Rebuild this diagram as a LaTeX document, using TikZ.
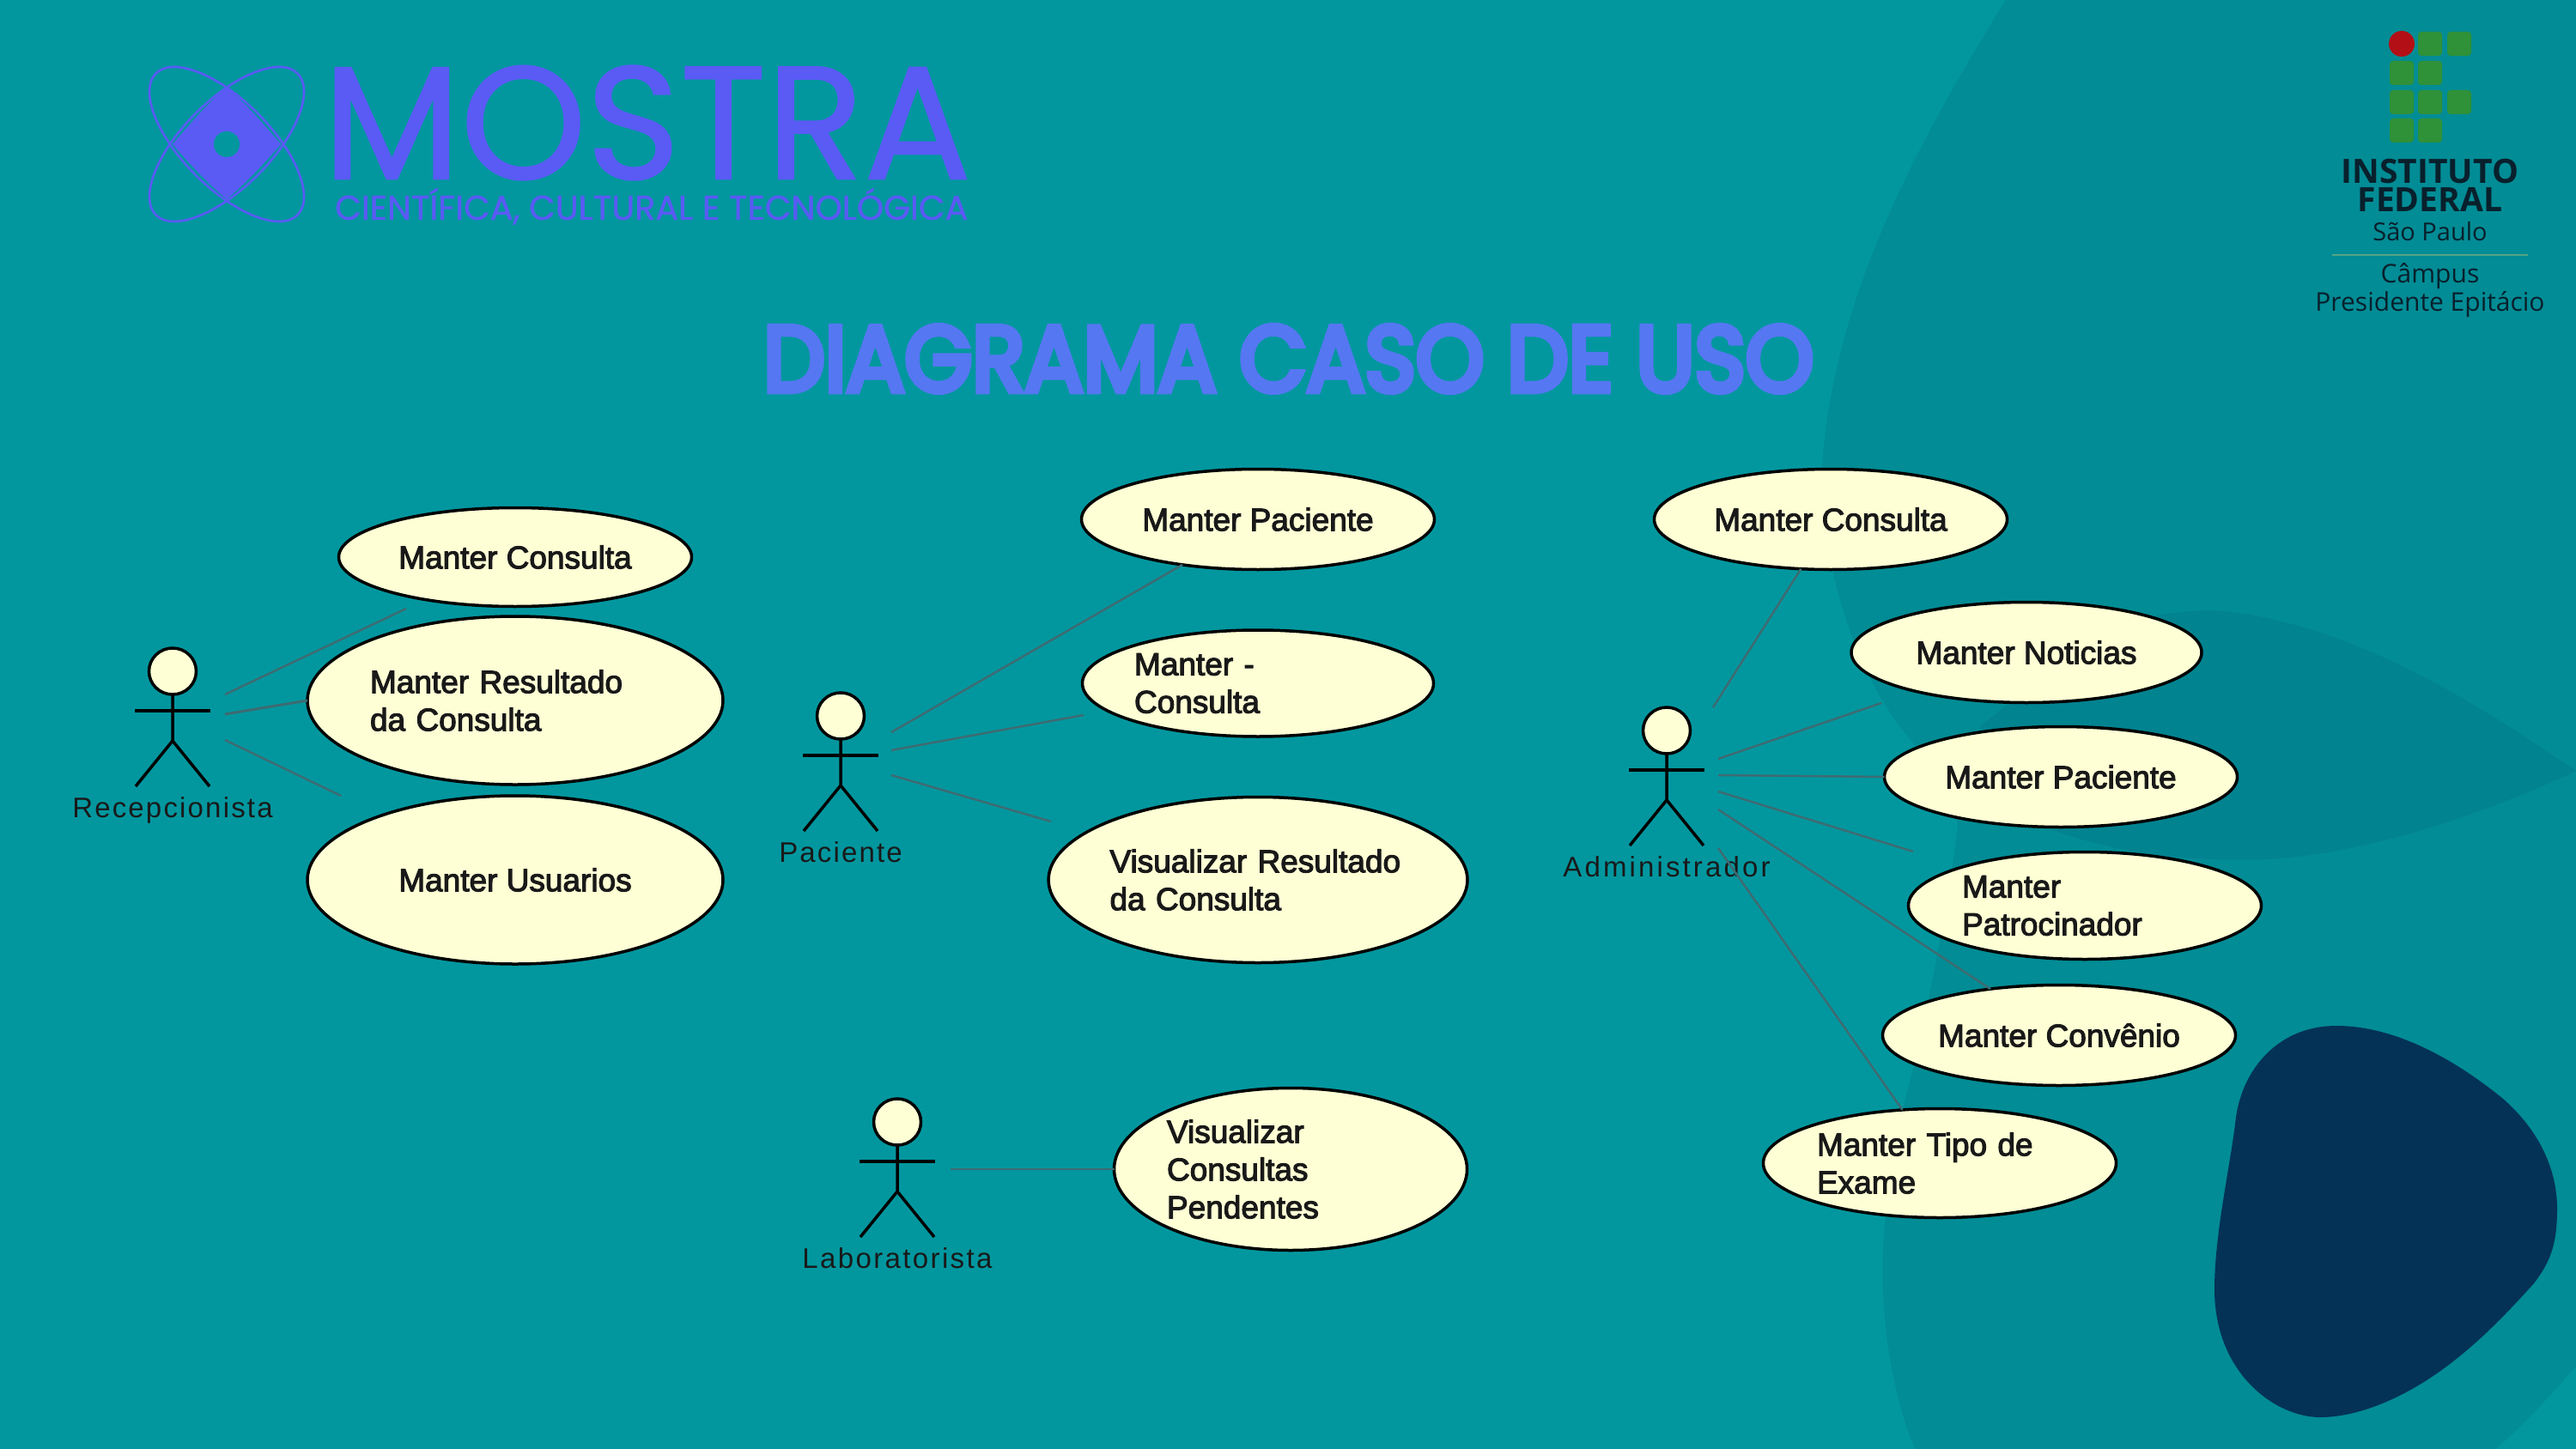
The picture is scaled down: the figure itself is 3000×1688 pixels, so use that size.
\documentclass[tikz,border=0pt]{standalone}
\usepackage{fontspec}
\usepackage{graphicx}
\usetikzlibrary{shapes.geometric}
\setmainfont{Liberation Sans}
\newfontfamily\ucfont[FakeBold=3]{Liberation Sans}
\newfontfamily\popfont{Poppins}
\newfontfamily\popmost[FakeBold=1]{Poppins}
\newfontfamily\popsub[FakeBold=1]{Poppins}
\newfontfamily\poptitle[FakeBold=7]{Poppins}
\newfontfamily\openfont{Open Sans}
\definecolor{bgteal}{HTML}{02979F}
\definecolor{darkteal}{HTML}{028C95}
\definecolor{lobeteal}{HTML}{028390}
\definecolor{navyblob}{HTML}{043257}
\definecolor{logoblue}{HTML}{5A5AF5}
\definecolor{titleblue}{HTML}{5577F2}
\definecolor{ucfill}{HTML}{FFFFD5}
\definecolor{assoc}{HTML}{3E6B72}
\definecolor{ifgreen}{HTML}{2F9138}
\definecolor{ifred}{HTML}{B21016}
\definecolor{ifink}{HTML}{08202C}
\definecolor{ifrule}{HTML}{55A583}
\tikzset{
  usecase/.style={ellipse,draw=black,line width=3.5pt,fill=ucfill,inner sep=0pt,outer sep=0pt,
    font=\ucfont\fontsize{37}{44}\selectfont,text=black!90},
  ucsmall/.style={usecase,minimum width=411pt,minimum height=117pt},
  leftuc/.style={align=left,text width=#1},
  actorhead/.style={ellipse,draw=black,line width=3.5pt,fill=ucfill,inner sep=0pt,outer sep=0pt,minimum width=55pt,minimum height=54pt},
  actorline/.style={draw=black,line width=3.5pt},
  actorlabel/.style={inner sep=0pt,anchor=base,text=black!90},
  assocline/.style={draw=assoc,line width=2.5pt},
  iftext/.style={inner sep=0pt,text=ifink},
}
\newcommand{\ucactor}[5]{%
  \node[actorhead] (#1) at (#2,#3) {};
  \draw[actorline] (#1.south) -- ++(0,54) coordinate (#1hip) -- ++(-43,53);
  \draw[actorline] (#1hip) -- ++(43,53);
  \draw[actorline,line width=4pt] (#2-44,#3+46) -- (#2+44,#3+46);
  \node[actorlabel] (#1l) at (#2,#3+170) {\addfontfeature{LetterSpace=#4}\fontsize{33}{36}\selectfont #5};
}
\begin{document}
\begin{tikzpicture}[x=1pt,y=-1pt]
\useasboundingbox (0,0) rectangle (3000,1688);
\clip (0,0) rectangle (3000,1688);
\fill[bgteal] (0,0) rectangle (3000,1688);
% large darker background shape
\fill[darkteal] (2336,0) .. controls (2230,170) and (2135,350) .. (2122,543)
  .. controls (2120,640) and (2150,760) .. (2210,843)
  .. controls (2240,880) and (2270,920) .. (2280,960)
  .. controls (2270,1060) and (2235,1220) .. (2217,1287)
  .. controls (2200,1370) and (2190,1440) .. (2193,1502)
  .. controls (2195,1570) and (2210,1640) .. (2230,1688)
  -- (2906,1688) .. controls (2940,1660) and (2970,1625) .. (3000,1592) -- (3000,0) -- cycle;
% darker lobe
\fill[lobeteal] (3000,898) .. controls (2900,830) and (2770,745) .. (2630,718)
  .. controls (2570,705) and (2500,710) .. (2440,745)
  .. controls (2390,775) and (2340,820) .. (2306,846)
  -- (2383,964) .. controls (2450,990) and (2540,1005) .. (2638,1001)
  .. controls (2760,995) and (2900,945) .. (3000,898) -- cycle;
% navy blob
\fill[navyblob] (2721,1195) .. controls (2790,1195) and (2860,1235) .. (2915,1280)
  .. controls (2955,1315) and (2978,1360) .. (2978,1408)
  .. controls (2978,1450) and (2970,1470) .. (2951,1495)
  .. controls (2915,1535) and (2885,1565) .. (2849,1592)
  .. controls (2805,1625) and (2750,1651) .. (2702,1651)
  .. controls (2650,1651) and (2579,1600) .. (2579,1502)
  .. controls (2579,1440) and (2595,1370) .. (2603,1310)
  .. controls (2608,1250) and (2650,1195) .. (2721,1195) -- cycle;

% MOSTRA logo
\fill[logoblue] (264,102) .. controls (240,122) and (218,148) .. (201,168)
  .. controls (218,188) and (240,212) .. (264,232)
  .. controls (288,212) and (310,188) .. (327,168)
  .. controls (310,148) and (288,122) .. (264,102) -- cycle;
\draw[logoblue,line width=2.6pt,rotate around={45:(264,168)}] (264,168) ellipse [x radius=116.6pt,y radius=51pt];
\draw[logoblue,line width=2.6pt,rotate around={-45:(264,168)}] (264,168) ellipse [x radius=116.6pt,y radius=51pt];
\fill[bgteal] (264,168) circle [radius=15pt];
\node[inner sep=0pt,anchor=west,text=logoblue] (mostra) at (376,143) {\resizebox{755pt}{132pt}{\popmost MOSTRA}};
\node[inner sep=0pt,anchor=base west,text=logoblue] (sub) at (390,256) {\resizebox{737pt}{37pt}{\popsub CIENTÍFICA, CULTURAL E TECNOLÓGICA}};
\node[inner sep=0pt,anchor=west,text=titleblue] (title) at (889,418) {\resizebox{1222pt}{76pt}{\poptitle DIAGRAMA CASO DE USO}};

% IF logo
\fill[ifred] (2797,51) circle [radius=15pt];
\foreach \px/\py in {2816/37,2850/37,2783/71,2816/71,2783/105,2816/105,2850/105,2783/138,2816/138}
  \fill[ifgreen,rounded corners=4pt] (\px,\py) rectangle ++(28,28);
\node[iftext] (inst) at (2830,200) {\openfont\bfseries\fontsize{39}{40}\selectfont INSTITUTO};
\node[iftext] (fed) at (2830,233) {\openfont\bfseries\fontsize{39}{40}\selectfont FEDERAL};
\node[iftext] (sp) at (2830,270) {\openfont\fontsize{29}{30}\selectfont São Paulo};
\draw[draw=ifrule,line width=2pt] (2716,297) -- (2944,297);
\node[iftext] (camp) at (2830,322) {\openfont\fontsize{30}{31}\selectfont Câmpus};
\node[iftext] (pres) at (2830,355) {\openfont\fontsize{30}{31}\selectfont Presidente Epitácio};

% Recepcionista
\ucactor{rec}{201}{782}{6.6}{Recepcionista}
\node[usecase,minimum width=411pt,minimum height=115pt] (rmc) at (600,649) {Manter Consulta};
\node[usecase,minimum width=484pt,minimum height=196pt,leftuc=338pt] (rmr) at (600,816) {Manter Resultado\\da Consulta};
\node[usecase,minimum width=484pt,minimum height=196pt] (rmu) at (600,1025) {Manter Usuarios};
\coordinate (ra1) at (262,809); \coordinate (re1) at (473,709);
\coordinate (ra2) at (262,832);
\coordinate (ra3) at (262,862); \coordinate (re3) at (397,927);
\draw[assocline] (ra1) -- (re1);
\draw[assocline,line width=3pt] (ra2) -- (rmr.west);
\draw[assocline] (ra3) -- (re3);

% Paciente
\ucactor{pac}{979}{834}{6.5}{Paciente}
\node[ucsmall] (pmp) at (1465,605) {Manter Paciente};
\node[usecase,minimum width=409pt,minimum height=124pt,leftuc=288pt] (pmc) at (1465,796) {Manter -\\Consulta};
\node[usecase,minimum width=486pt,minimum height=193pt,leftuc=345pt] (pvr) at (1465,1025) {Visualizar Resultado\\da Consulta};
\coordinate (pa1) at (1038,853);
\coordinate (pa2) at (1038,874); \coordinate (pe2) at (1262,833);
\coordinate (pa3) at (1038,903); \coordinate (pe3) at (1224,957);
\draw[assocline] (pa1) -- (pmp.211);
\draw[assocline] (pa2) -- (pe2);
\draw[assocline] (pa3) -- (pe3);

% Laboratorista
\ucactor{lab}{1045}{1307}{7.2}{Laboratorista}
\node[usecase,minimum width=411pt,minimum height=189pt,leftuc=288pt] (lvc) at (1503,1362) {Visualizar\\Consultas\\Pendentes};
\coordinate (la1) at (1107,1362);
\draw[assocline] (la1) -- (lvc.west);

% Administrador
\ucactor{adm}{1941}{851}{9.5}{Administrador}
\node[ucsmall] (amc) at (2132,605) {Manter Consulta};
\node[ucsmall,minimum width=408pt] (amn) at (2360,760) {Manter Noticias};
\node[ucsmall] (amp) at (2400,905) {Manter Paciente};
\node[usecase,minimum width=411pt,minimum height=125pt,leftuc=286pt] (ampt) at (2428,1055) {Manter\\Patrocinador};
\node[ucsmall] (amcv) at (2398,1206) {Manter Convênio};
\node[usecase,minimum width=411pt,minimum height=127pt,leftuc=286pt] (amt) at (2259,1355) {Manter Tipo de\\Exame};
\coordinate (aa1) at (1995,824);
\coordinate (aa2) at (2001,884); \coordinate (ae2) at (2191,819);
\coordinate (aa3) at (2001,903);
\coordinate (aa4) at (2001,922); \coordinate (ae4) at (2228,992);
\coordinate (aa5) at (2001,943);
\coordinate (aa6) at (2001,988);
\draw[assocline] (aa1) -- (amc.239);
\draw[assocline] (aa2) -- (ae2);
\draw[assocline] (aa3) -- (amp.west);
\draw[assocline] (aa4) -- (ae4);
\draw[assocline] (aa5) -- (amcv.146);
\draw[assocline] (aa6) -- (amt.125);
\end{tikzpicture}
\end{document}
